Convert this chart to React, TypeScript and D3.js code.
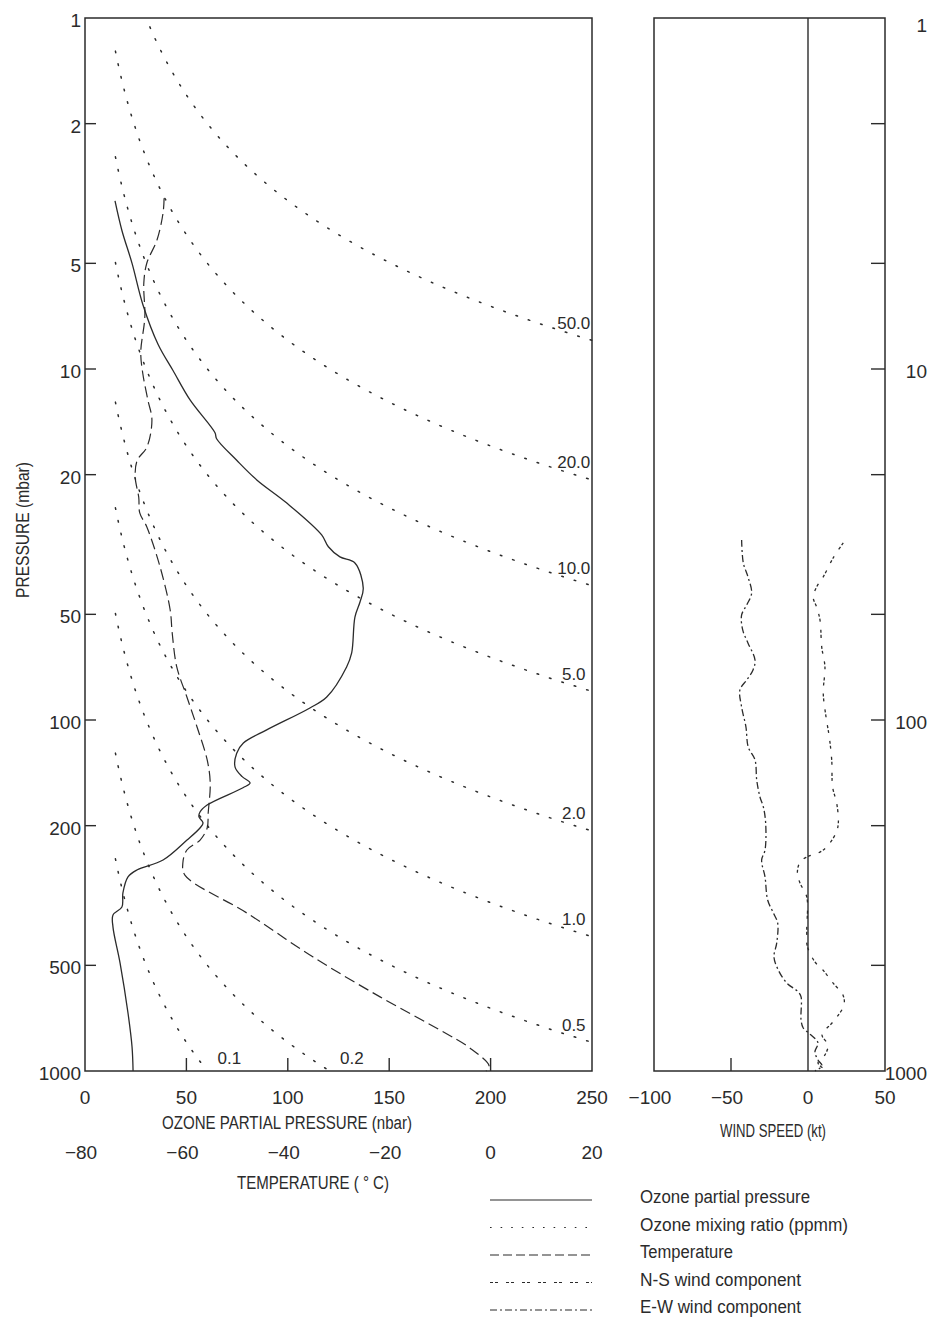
import React from "react";
import * as d3 from "d3";

// ---------- data ----------
const pressureTicks = [1, 2, 5, 10, 20, 50, 100, 200, 500, 1000];
const rightPressureLabels = [1, 10, 100, 1000];
const ozoneTicks = [0, 50, 100, 150, 200, 250];
const temperatureTicks = [-80, -60, -40, -20, 0, 20];
const windTicks = [-100, -50, 0, 50];
const mixingRatios = [0.1, 0.2, 0.5, 1, 2, 5, 10, 20, 50];
// ozone mixing ratio (ppmm) = factor * partial pressure (nbar) / pressure (mbar)
const PPMM_FACTOR = 1.657;

// [pressure mbar, ozone partial pressure nbar]
const ozoneProfile: [number, number][] = [
  [3.32, 14.8], [4.03, 18.2], [5.0, 23.2], [6.57, 28.6], [8.5, 36.0], [10.1, 43.4],
  [12.25, 51.8], [15.2, 64.1], [15.8, 64.9], [18.2, 74.8], [20.7, 84.7], [24.1, 99.5],
  [29.7, 116.7], [32.1, 120.0], [34.3, 125.7], [35.7, 133.1], [42.1, 137.2], [46.1, 135.6],
  [50.9, 133.1], [64.4, 131.5], [70.6, 129.0], [86.0, 119.2], [92.4, 110.9], [106.7, 89.6],
  [116.3, 78.1], [124.3, 74.8], [136.2, 74.0], [145.0, 77.5], [151.2, 81.4], [156.0, 77.9],
  [174.7, 60.2], [182.9, 56.7], [188.9, 56.2], [196.4, 58.2], [203.1, 56.7], [219.8, 50.3],
  [250.6, 38.5], [267.5, 25.6], [280.0, 21.2], [311.0, 18.7], [341.0, 18.2], [359.4, 13.8],
  [389.0, 13.8], [492.5, 17.3], [683.4, 21.2], [854.6, 23.2], [1000, 23.7],
];

// [pressure mbar, temperature °C]
const temperatureProfile: [number, number][] = [
  [3.26, -64.4], [3.59, -64.6], [4.29, -65.8], [4.99, -67.8], [5.69, -68.4], [7.11, -68.2],
  [8.95, -69.0], [10.3, -68.6], [12.25, -67.6], [13.97, -66.8], [16.7, -67.8], [18.2, -69.7],
  [20.3, -70.1], [23.2, -69.4], [25.7, -69.2], [28.2, -67.8], [36.6, -65.2], [48.6, -63.2],
  [56.5, -62.8], [70.6, -61.9], [86.0, -59.9], [104.7, -57.9], [130.0, -55.9], [151.2, -55.3],
  [184.1, -55.7], [203.1, -55.9], [219.8, -57.3], [234.6, -59.9], [255.4, -60.7], [276.6, -60.3],
  [354.5, -48.1], [473.6, -35.0], [615.0, -21.8], [764.3, -10.0], [859.6, -4.1], [967, -0.3],
  [1000, -0.9],
];

// [pressure mbar, wind kt]
const nsWind: [number, number][] = [
  [31.3, 22.9], [34.5, 16.4], [39.1, 9.9], [41.8, 5.6], [44.7, 3.4], [47.7, 5.6], [51.9, 7.8],
  [61.9, 8.9], [70.6, 11.0], [83.7, 9.9], [98.0, 11.7], [111.7, 13.8], [130.0, 15.4],
  [155.4, 16.0], [172.3, 18.6], [196.4, 19.7], [209.8, 18.2], [230.0, 12.1], [237.9, 7.8],
  [245.7, -0.8], [254.0, -5.2], [272.9, -6.9], [291.3, -5.2], [319.2, -0.8], [396.6, -0.8],
  [440, -0.5], [489, 4.5], [515.6, 9.7], [561.3, 16.2], [607, 22.7], [648, 23.4], [702, 18.8],
  [730, 15.6], [789, 9.1], [843, 13.0], [900, 11.0], [948, 6.5], [986, 10.4],
];

const ewWind: [number, number][] = [
  [30.7, -43.1], [35.7, -42.0], [39.1, -39.0], [43.5, -36.6], [47.0, -39.8], [50.2, -43.1],
  [55.4, -42.4], [60.3, -39.0], [67.5, -34.4], [72.0, -35.7], [76.9, -39.8], [82.1, -44.2],
  [91.9, -43.1], [104.7, -40.3], [119.4, -38.8], [130.0, -34.4], [148.2, -33.3], [165.7, -31.2],
  [176.9, -29.0], [196.4, -27.5], [234.6, -27.9], [250.6, -30.1], [280.0, -27.9], [325.7, -26.2],
  [354.5, -22.5], [378.6, -19.7], [431.7, -20.3], [473.6, -22.1], [515.6, -19.3], [561.3, -13.8],
  [595.3, -6.3], [615, -4.5], [715.6, -4.5], [754.3, -3.1], [784.7, 1.3], [832, 6.5],
  [882, 4.5], [930, 6.5], [967, 9.1], [1000, 4.5],
];

const legendLabels = [
  "Ozone partial pressure",
  "Ozone mixing ratio (ppmm)",
  "Temperature",
  "N-S wind component",
  "E-W wind component",
];

// ---------- layout / style ----------
const W = 929;
const H = 1319;
const L = { x0: 85, x1: 592, y0: 18, y1: 1071 };
const R = { x0: 654, x1: 885 };
const INK = "#2b2b2b";
const FONT = "'Liberation Sans', Arial, sans-serif";

const dashes = {
  ozone: "none",
  ratio: "1.6,11.4",
  temp: "11,5",
  ns: "3,2,3,8",
  ew: "7,3,2,3",
};
const legendDashes = [dashes.ozone, "1.6,9", "9,4", dashes.ns, dashes.ew];
const legendWidths = [170, 208, 93, 161, 161];

export default function App() {
  const y = d3.scaleLog().domain([1, 1000]).range([L.y0, L.y1]);
  const xO = d3.scaleLinear().domain([0, 250]).range([L.x0, L.x1]);
  const xT = d3.scaleLinear().domain([-80, 20]).range([L.x0, L.x1]);
  const xW = d3.scaleLinear().domain([-100, 50]).range([R.x0, R.x1]);

  const mk = (xs: (v: number) => number) =>
    d3
      .line<[number, number]>()
      .x((d) => xs(d[1]))
      .y((d) => y(d[0]))
      .curve(d3.curveCatmullRom.alpha(0.5));

  const ozonePath = mk(xO)(ozoneProfile) || "";
  const tempPath = mk(xT)(temperatureProfile) || "";
  const nsPath = mk(xW)(nsWind) || "";
  const ewPath = mk(xW)(ewWind) || "";

  // mixing-ratio isopleths
  const ratioLine = d3
    .line<number>()
    .x((p) => xO(0) + 0) // placeholder, replaced below
    .y((p) => y(p));
  const isopleths = mixingRatios.map((r) => {
    const pStart = Math.max(1.06, (15 * PPMM_FACTOR) / r);
    const pEnd = Math.min(1000, (250 * PPMM_FACTOR) / r);
    const ps = d3.range(0, 61).map((i) =>
      Math.exp(Math.log(pStart) + (i / 60) * (Math.log(pEnd) - Math.log(pStart)))
    );
    const gen = d3
      .line<number>()
      .x((p) => xO((r * p) / PPMM_FACTOR))
      .y((p) => y(p));
    const d = gen(ps) || "";
    let lx: number, ly: number;
    if (pEnd < 1000) {
      lx = xO(241);
      ly = y((241 * PPMM_FACTOR) / r) - 6;
    } else {
      lx = xO((r * 1000) / PPMM_FACTOR) + 22;
      ly = L.y1 - 7;
    }
    return { r, d, lx, ly };
  });
  void ratioLine;

  const innerTicks = pressureTicks.slice(1, -1);

  return (
    <svg
      width={W}
      height={H}
      viewBox={`0 0 ${W} ${H}`}
      style={{ position: "absolute", left: 0, top: 0, background: "#fff" }}
      fontFamily={FONT}
    >
      <rect x={0} y={0} width={W} height={H} fill="#fff" />

      {/* ---------- left panel ---------- */}
      <g fill="none" stroke={INK}>
        {isopleths.map((iso) => (
          <path
            key={iso.r}
            d={iso.d}
            strokeWidth={1.5}
            strokeDasharray={dashes.ratio}
            strokeLinecap="round"
          />
        ))}
        <path d={tempPath} strokeWidth={1.2} strokeDasharray={dashes.temp} />
        <path d={ozonePath} strokeWidth={1.3} />
        <rect
          x={L.x0}
          y={L.y0}
          width={L.x1 - L.x0}
          height={L.y1 - L.y0}
          strokeWidth={1.5}
        />
        {innerTicks.map((p) => (
          <line key={"lt" + p} x1={L.x0} x2={L.x0 + 11} y1={y(p)} y2={y(p)} strokeWidth={1.4} />
        ))}
        {ozoneTicks.slice(1, -1).map((v) => (
          <line key={"bt" + v} x1={xO(v)} x2={xO(v)} y1={L.y1} y2={L.y1 - 13} strokeWidth={1.4} />
        ))}
      </g>

      <g fill={INK} fontSize={17}>
        {isopleths.map((iso) => (
          <text key={"il" + iso.r} x={iso.lx} y={iso.ly} textAnchor="middle">
            {iso.r.toFixed(1)}
          </text>
        ))}
      </g>

      <g fill={INK} fontSize={19}>
        {pressureTicks.map((p) => (
          <text key={"pl" + p} x={81} y={y(p) + 9} textAnchor="end">
            {p}
          </text>
        ))}
        {ozoneTicks.map((v) => (
          <text key={"ol" + v} x={xO(v)} y={1104} textAnchor="middle">
            {v}
          </text>
        ))}
        {temperatureTicks.map((v) => (
          <text key={"tl" + v} x={xT(v) - (v < 0 ? 4 : 0)} y={1159} textAnchor="middle">
            {v < 0 ? "\u2212" + Math.abs(v) : v}
          </text>
        ))}
        {windTicks.map((v) => (
          <text key={"wl" + v} x={xW(v) - (v < 0 ? 4 : 0)} y={1104} textAnchor="middle">
            {v < 0 ? "\u2212" + Math.abs(v) : v}
          </text>
        ))}
        {rightPressureLabels.map((p) => (
          <text key={"rl" + p} x={927} y={y(p) + (p === 1 ? 14 : 9)} textAnchor="end">
            {p}
          </text>
        ))}
      </g>

      <g fill={INK} fontSize={18}>
        <text x={287} y={1129} textAnchor="middle" textLength={250} lengthAdjust="spacingAndGlyphs">
          OZONE PARTIAL PRESSURE (nbar)
        </text>
        <text x={313} y={1189} textAnchor="middle" textLength={152} lengthAdjust="spacingAndGlyphs">
          TEMPERATURE ( ° C)
        </text>
        <text x={773} y={1137} textAnchor="middle" textLength={106} lengthAdjust="spacingAndGlyphs">
          WIND SPEED (kt)
        </text>
        <text
          transform="translate(29,530) rotate(-90)"
          textAnchor="middle"
          textLength={136}
          lengthAdjust="spacingAndGlyphs"
        >
          PRESSURE (mbar)
        </text>
      </g>

      {/* ---------- right panel ---------- */}
      <g fill="none" stroke={INK}>
        <path d={nsPath} strokeWidth={1.3} strokeDasharray={dashes.ns} />
        <path d={ewPath} strokeWidth={1.3} strokeDasharray={dashes.ew} />
        <rect x={R.x0} y={L.y0} width={R.x1 - R.x0} height={L.y1 - L.y0} strokeWidth={1.5} />
        <line x1={xW(0)} x2={xW(0)} y1={L.y0} y2={L.y1} strokeWidth={1.4} />
        {innerTicks.map((p) => (
          <line key={"rt" + p} x1={R.x1} x2={R.x1 - 14} y1={y(p)} y2={y(p)} strokeWidth={1.4} />
        ))}
        <line x1={xW(-50)} x2={xW(-50)} y1={L.y1} y2={L.y1 - 13} strokeWidth={1.4} />
      </g>

      {/* ---------- legend ---------- */}
      {legendLabels.map((lab, i) => {
        const cy = 1196 + i * 27.5;
        return (
          <g key={lab}>
            <line
              x1={490}
              x2={592}
              y1={cy + 4}
              y2={cy + 4}
              stroke={INK}
              strokeWidth={1.2}
              strokeDasharray={legendDashes[i]}
            />
            <text
              x={640}
              y={cy + 7}
              fill={INK}
              fontSize={18}
              textLength={legendWidths[i]}
              lengthAdjust="spacingAndGlyphs"
            >
              {lab}
            </text>
          </g>
        );
      })}
    </svg>
  );
}
